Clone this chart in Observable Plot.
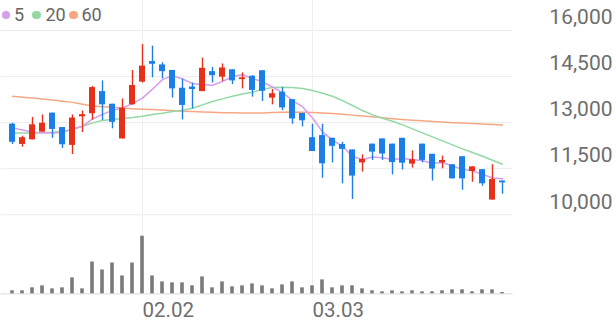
<!DOCTYPE html>
<html>
<head>
<meta charset="utf-8">
<script src="https://cdn.jsdelivr.net/npm/d3@7"></script>
<script src="https://cdn.jsdelivr.net/npm/@observablehq/plot@0.6"></script>
<style>
  html, body { margin: 0; padding: 0; background: #fff; }
  #chart { position: relative; width: 616px; height: 321px; overflow: hidden; font-family: Roboto, sans-serif; }
  #price { position: absolute; left: 0; top: 0; }
  #volume { position: absolute; left: 0; top: 225px; }
  #legend { position: absolute; left: 0; top: 0; width: 120px; height: 30px; }
  .ldot { position: absolute; width: 8.6px; height: 8.6px; border-radius: 50%; }
  .ltxt { position: absolute; font-size: 18px; color: #666; line-height: 1; }
  svg { overflow: visible; }
</style>
</head>
<body>
<div id="chart">
  <div id="price"></div>
  <div id="volume"></div>
  <div id="legend"></div>
</div>
<script>
// ---- data ----
const dates = [
  "2026-01-14","2026-01-15","2026-01-16","2026-01-19","2026-01-20","2026-01-21","2026-01-22","2026-01-23",
  "2026-01-26","2026-01-27","2026-01-28","2026-01-29","2026-01-30",
  "2026-02-02","2026-02-03","2026-02-04","2026-02-05","2026-02-06","2026-02-09","2026-02-10","2026-02-11",
  "2026-02-12","2026-02-13","2026-02-19","2026-02-20","2026-02-23","2026-02-24","2026-02-25","2026-02-26","2026-02-27",
  "2026-03-03","2026-03-04","2026-03-05","2026-03-06","2026-03-09","2026-03-10","2026-03-11","2026-03-12",
  "2026-03-13","2026-03-16","2026-03-17","2026-03-18","2026-03-19","2026-03-20","2026-03-23","2026-03-24",
  "2026-03-25","2026-03-26","2026-03-27","2026-03-30"
];
const open  = [12950,12290,12440,12690,13310,12840,12260,13190,13290,14010,13600,12470,13580,14320,14990,14880,14700,14120,14160,14010,14660,14480,14720,14400,14510,14690,13800,13990,13750,13300,12510,12580,12490,12290,12110,11690,12300,12470,12300,12490,11650,12300,11970,11690,11630,11890,11410,11470,10480,11100];
const high  = [12980,12560,13170,13250,13310,12840,13250,13380,14180,14360,13600,13770,14700,15540,15490,14950,14700,14420,14290,15100,14800,14910,14720,14620,14530,14690,14080,14140,13750,13300,12950,12950,12490,12360,12110,11950,12300,12470,12300,12490,12080,12300,11970,11910,11630,11890,11560,11470,11630,11100];
const low   = [12290,12200,12440,12690,12490,12160,11960,12680,13080,13070,12800,12470,13580,14290,14460,14420,13800,13090,13450,14010,14290,14340,14240,14100,13830,13690,13580,13390,12950,12860,12060,11190,11690,11010,10500,11390,11770,11770,11300,11460,11520,11690,11100,11500,11170,10800,11060,10930,10480,10670];
const close = [12360,12510,12930,12980,12780,12280,13150,13260,14140,13580,13010,13470,14210,14840,14900,14660,14100,13560,14080,14770,14530,14780,14360,14460,14050,14020,13940,13480,13120,13060,12060,11660,12230,12130,11260,11800,12040,11980,11700,11680,11790,11770,11490,11770,11170,11170,11560,11010,11150,11040];
const ma5   = [12830,12760,12690,12660,12660,12690,12790,12880,13120,13270,13400,13480,13620,13800,14090,14400,14530,14420,14270,14240,14220,14340,14500,14560,14440,14330,14160,13980,13720,13520,13150,12700,12430,12230,11900,11800,11880,11860,11800,11830,11800,11760,11680,11700,11590,11480,11430,11320,11200,11170];
const ma20  = [12667,12667,12667,12678,12689,12711,12776,12884,12993,13069,13101,13134,13166,13210,13264,13307,13361,13405,13470,13578,13687,13774,13861,13936,13991,14088,14142,14153,14142,14110,14045,13958,13861,13719,13557,13394,13253,13145,13047,12928,12797,12667,12537,12407,12277,12147,12027,11908,11778,11648];
const ma60  = [13860,13830,13800,13770,13735,13700,13660,13600,13545,13520,13500,13475,13455,13440,13425,13410,13390,13375,13360,13345,13335,13325,13320,13315,13315,13318,13330,13340,13345,13340,13330,13315,13295,13270,13245,13220,13190,13160,13130,13105,13080,13060,13040,13020,13000,12985,12970,12955,12940,12925];
const volume = [3,3,6,8,5,6,16,5,32,24,31,18,31,58,18,12,11,11,8,17,6,12,7,8,10,8,5,9,12,6,8,14,6,8,8,5,3,2,3,2,3,2,2,3,4,4,2,4,4,1.3];
const priceTicks = [10000, 11500, 13000, 14500, 16000];
const dateTicks = ["2026-02-02", "2026-03-03"];
const legendItems = ["5", "20", "60"];
const maColors = ["#d79ded", "#93d8a5", "#f6a885"];

// ---- build ----
const UP = "#e5301a", DOWN = "#1c7fe6";
const rows = dates.map((d, i) => ({
  date: d, open: open[i], high: high[i], low: low[i], close: close[i],
  ma5: ma5[i], ma20: ma20[i], ma60: ma60[i], volume: volume[i],
  color: close[i] >= open[i] ? UP : DOWN
}));
const W = 616, ML = 0.6, MR = 103.4;
const fmtDate = d => d.slice(5).replace("-", ".");
const style = {fontFamily: "Roboto, sans-serif", background: "transparent"};

const price = Plot.plot({
  width: W, height: 225, marginLeft: ML, marginRight: MR, marginTop: 30, marginBottom: 10.7,
  style,
  x: {type: "band", domain: dates, padding: 0, axis: null},
  y: {domain: [10000, 16000], axis: null},
  color: {type: "identity"},
  marks: [
    Plot.gridY(priceTicks, {stroke: "#ececec", strokeOpacity: 1}),
    Plot.gridX(dateTicks, {stroke: "#efefef", strokeOpacity: 1, insetTop: -30, insetBottom: -10.7}),
    Plot.axisY(priceTicks, {anchor: "right", tickSize: 0, tickPadding: 99.4, textAnchor: "end", dy: -13,
      tickFormat: d3.format(","), fontSize: 21, fill: "#6e6e6e", label: null}),
    Plot.line(rows, {x: "date", y: "ma60", stroke: maColors[2], strokeWidth: 1.5}),
    Plot.line(rows, {x: "date", y: "ma20", stroke: maColors[1], strokeWidth: 1.5}),
    Plot.line(rows, {x: "date", y: "ma5", stroke: maColors[0], strokeWidth: 1.5}),
    Plot.ruleX(rows, {x: "date", y1: "low", y2: "high", stroke: "color", strokeWidth: 1.4}),
    Plot.barY(rows, {x: "date", y1: "open", y2: "close", fill: "color", insetLeft: 2, insetRight: 2})
  ]
});
document.getElementById("price").appendChild(price);

const vol = Plot.plot({
  width: W, height: 96, marginLeft: ML, marginRight: MR, marginTop: 10.7, marginBottom: 27.7,
  style,
  x: {type: "band", domain: dates, padding: 0, axis: null},
  y: {domain: [0, d3.max(volume)], axis: null},
  marks: [
    Plot.gridX(dateTicks, {stroke: "#efefef", strokeOpacity: 1, insetTop: -10.7}),
    Plot.ruleY([0], {stroke: "#e6e6e6", strokeWidth: 1.5}),
    Plot.barY(rows, {x: "date", y: "volume", fill: "#7a7a7a", insetLeft: 3.2, insetRight: 3.2}),
    Plot.axisX(dateTicks, {tickSize: 0, tickPadding: 8.5, textAnchor: "start", tickFormat: fmtDate,
      fontSize: 20.5, fill: "#6e6e6e", label: null})
  ]
});
document.getElementById("volume").appendChild(vol);

// legend (HTML overlay)
const legend = document.getElementById("legend");
const dotX = [1.7, 32.4, 69];
const txtX = [14, 45.5, 81.5];
legendItems.forEach((t, i) => {
  const dot = document.createElement("span");
  dot.className = "ldot";
  dot.style.left = dotX[i] + "px"; dot.style.top = "10.7px"; dot.style.background = maColors[i];
  legend.appendChild(dot);
  const tx = document.createElement("span");
  tx.className = "ltxt";
  tx.style.left = txtX[i] + "px"; tx.style.top = "6px";
  tx.textContent = t;
  legend.appendChild(tx);
});
</script>
</body>
</html>
